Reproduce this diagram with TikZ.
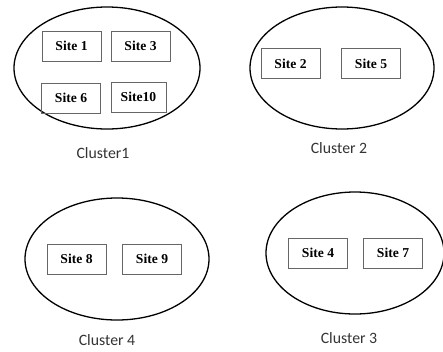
\documentclass[tikz,border=0pt]{standalone}
\usepackage{fontspec}
\usetikzlibrary{shapes.geometric}
\setmainfont{Liberation Serif}
\newfontfamily\calib{Carlito}
\begin{document}
\begin{tikzpicture}[x=1pt,y=-1pt,
  cluster/.style={draw=black,line width=1.3pt,ellipse,inner sep=0pt,minimum height=122pt},
  sitebox/.style={draw=black!60,line width=0.6pt,minimum width=59pt,minimum height=30pt,inner sep=0pt,font=\fontsize{13.6}{13.6}\selectfont\bfseries},
  clabel/.style={font=\calib\fontsize{15.8}{15.8}\selectfont,text=black!80,inner sep=0pt}]
\useasboundingbox (0,0) rectangle (443,351);
% Cluster 1
\node[cluster,minimum width=186pt] (c1) at (107,68) {};
\node[sitebox] (s1) at (71.5,46) {Site 1};
\node[sitebox] (s3) at (140.5,46) {Site 3};
\node[sitebox] (s6) at (71,98) {Site 6};
\node[sitebox,minimum width=55pt] (s10) at (138.5,97) {Site10};
\node[clabel] (l1) at (103,153) {Cluster1};
% Cluster 2
\node[cluster,minimum width=184pt] (c2) at (342,68) {};
\node[sitebox] (s2) at (290.5,63.5) {Site 2};
\node[sitebox] (s5) at (371,63.5) {Site 5};
\node[clabel] (l2) at (339,148) {Cluster 2};
% Cluster 4
\node[cluster,minimum width=184pt] (c4) at (117,259) {};
\node[sitebox] (s8) at (76.5,259) {Site 8};
\node[sitebox] (s9) at (152,259) {Site 9};
\node[clabel] (l4) at (107,340) {Cluster 4};
% Cluster 3
\node[cluster,minimum width=178pt] (c3) at (355,253) {};
\node[sitebox] (s4) at (318,253) {Site 4};
\node[sitebox] (s7) at (393,253) {Site 7};
\node[clabel] (l3) at (349,338) {Cluster 3};
\end{tikzpicture}
\end{document}
